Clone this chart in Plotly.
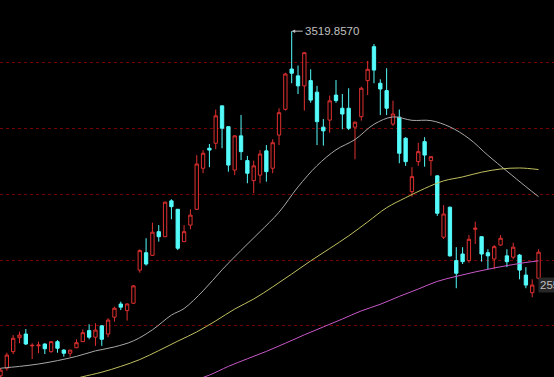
import plotly.graph_objects as go

# ---- candle data (index 0..85) ----
open_ = [2210, 2239, 2302, 2355, 2369, 2324, 2324, 2331, 2302, 2340,
         2308, 2296, 2317, 2340, 2382, 2357, 2400, 2369, 2433, 2483,
         2458, 2486, 2612, 2678, 2668, 2758, 2739, 2875, 2843, 2720,
         2783, 2843, 2999, 3075, 3094, 3236, 3157, 2992, 3122, 3028,
         2952, 2973, 3065, 2999, 3125, 3223, 3376, 3350, 3312, 3332,
         3288, 3155, 3182, 3277, 3227, 3227, 3155, 3195, 3332, 3461,
         3322, 3294, 3167, 3193, 3113, 2910, 3024, 3100, 3028, 2970,
         2737, 2851, 2648, 2673, 2648, 2767, 2739, 2678, 2654, 2707,
         2666, 2661, 2669, 2593, 2526, 2581]
high = [2240, 2298, 2365, 2378, 2388, 2334, 2340, 2334, 2342, 2346,
        2311, 2308, 2349, 2387, 2406, 2410, 2403, 2429, 2473, 2492,
        2486, 2555, 2691, 2733, 2792, 2783, 2872, 2881, 2844, 2783,
        2843, 3049, 3068, 3091, 3222, 3236, 3157, 3125, 3201, 3046,
        3028, 3068, 3087, 3109, 3227, 3362, 3519.857, 3389, 3440, 3375,
        3312, 3186, 3275, 3334, 3281, 3303, 3176, 3309, 3407, 3471,
        3337, 3379, 3256, 3222, 3117, 3003, 3096, 3117, 3043, 2973,
        2859, 2853, 2699, 2699, 2745, 2796, 2739, 2691, 2707, 2745,
        2691, 2716, 2673, 2623, 2577, 2691]
low = [2202, 2230, 2293, 2334, 2327, 2274, 2296, 2293, 2298, 2298,
       2283, 2283, 2315, 2339, 2349, 2324, 2324, 2357, 2416, 2460,
       2420, 2483, 2602, 2629, 2666, 2720, 2737, 2805, 2688, 2719,
       2767, 2840, 2980, 3003, 3071, 3075, 2986, 2973, 3030, 2942,
       2904, 2942, 2948, 2980, 3087, 3218, 3322, 3281, 3218, 3248,
       3087, 3085, 3134, 3248, 3147, 3144, 3033, 3180, 3277, 3322,
       3201, 3201, 3160, 3018, 3008, 2891, 3008, 3005, 2971, 2818,
       2730, 2663, 2543, 2635, 2640, 2711, 2644, 2615, 2615, 2704,
       2623, 2653, 2577, 2543, 2509, 2577]
close = [2232, 2289, 2353, 2365, 2331, 2326, 2327, 2313, 2340, 2315,
         2296, 2308, 2336, 2374, 2357, 2384, 2349, 2422, 2467, 2471,
         2483, 2552, 2686, 2635, 2756, 2739, 2870, 2853, 2695, 2758,
         2821, 3015, 3056, 3068, 3198, 3151, 3011, 3122, 3062, 2980,
         3008, 3053, 2986, 3096, 3210, 3357, 3360, 3312, 3438, 3258,
         3176, 3141, 3255, 3256, 3205, 3151, 3174, 3303, 3375, 3372,
         3300, 3227, 3205, 3056, 3024, 2967, 3062, 3049, 3043, 2828,
         2825, 2666, 2600, 2644, 2729, 2771, 2673, 2666, 2701, 2733,
         2644, 2699, 2612, 2555, 2555, 2680]
bars = list(range(len(close)))

# ---- moving averages ----
ma30_idx = [0, 3, 6, 9, 12, 15, 18, 21, 24, 27, 29, 32, 35, 38, 41, 44, 47, 50,
            53, 56, 59, 62, 65, 68, 71, 74, 77, 80, 83, 85]
ma30_val = [2239, 2246, 2255, 2268, 2284, 2305, 2320, 2343, 2385, 2441, 2466,
            2533, 2613, 2687, 2758, 2832, 2928, 3009, 3069, 3108, 3166, 3194,
            3181, 3180, 3156, 3112, 3048, 2988, 2929, 2891]

ma60_idx = [12, 13, 16, 19, 22, 25, 28, 31, 34, 37, 40, 43, 46, 49, 52, 55, 58,
            61, 64, 67, 70, 73, 76, 79, 82, 85]
ma60_val = [2201, 2207, 2224, 2246, 2272, 2306, 2342, 2377, 2419, 2464, 2502,
            2548, 2597, 2647, 2694, 2742, 2795, 2849, 2887, 2922, 2951, 2966,
            2984, 2996, 3000, 2994]

ma120_idx = [31, 33, 36, 39, 42, 45, 48, 51, 54, 57, 60, 63, 66, 69, 72, 75, 78,
             81, 83, 85]
ma120_val = [2196, 2213, 2246, 2275, 2303, 2334, 2366, 2396, 2426, 2457, 2482,
             2512, 2540, 2569, 2588, 2605, 2620, 2633, 2641, 2647]

grid_vals = [3400, 3150, 2900, 2650, 2400]
max_label = "3519.8570"
side_label = "2555.65"

RED = "#e03030"
CYAN = "#54fcfc"

fig = go.Figure()
fig.add_trace(go.Candlestick(
    x=bars, open=open_, high=high, low=low, close=close,
    increasing=dict(line=dict(color=RED, width=1), fillcolor="#000000"),
    decreasing=dict(line=dict(color=CYAN, width=1), fillcolor=CYAN),
    whiskerwidth=0, showlegend=False, hoverinfo="skip"))

for xs, ys, col in [(ma30_idx, ma30_val, "#a8a8a8"),
                    (ma60_idx, ma60_val, "#c0c060"),
                    (ma120_idx, ma120_val, "#c858c8")]:
    fig.add_trace(go.Scatter(x=xs, y=ys, mode="lines",
                             line=dict(color=col, width=1, shape="spline"),
                             showlegend=False, hoverinfo="skip"))

fig.add_annotation(x=46, y=3519.857, text=max_label, showarrow=True,
                   ax=11, ay=0, xanchor="left", yanchor="middle",
                   arrowhead=2, arrowsize=0.7, arrowwidth=1, arrowcolor="#c0c0c0",
                   standoff=0, font=dict(family="Liberation Sans, Arial", size=11.5,
                                         color="#c0c0c0"))
fig.add_annotation(x=85, y=2555, text=side_label, showarrow=False,
                   xanchor="left", yanchor="middle", xshift=-1,
                   bgcolor="#262626", borderpad=1,
                   font=dict(family="Liberation Sans, Arial", size=11.5, color="#c0c0c0"))

fig.update_layout(
    width=554, height=377, margin=dict(l=0, r=0, t=0, b=0),
    paper_bgcolor="#000000", plot_bgcolor="#000000",
    boxgap=0.25,
    xaxis=dict(range=[-0.08, 87.44], visible=False, rangeslider=dict(visible=False),
               showgrid=False, zeroline=False),
    yaxis=dict(range=[2205.7, 3638.3], tickvals=grid_vals, showticklabels=False,
               gridcolor="#780000", griddash="dot", gridwidth=1,
               zeroline=False, showline=False),
)

fig.write_html("out.html")
